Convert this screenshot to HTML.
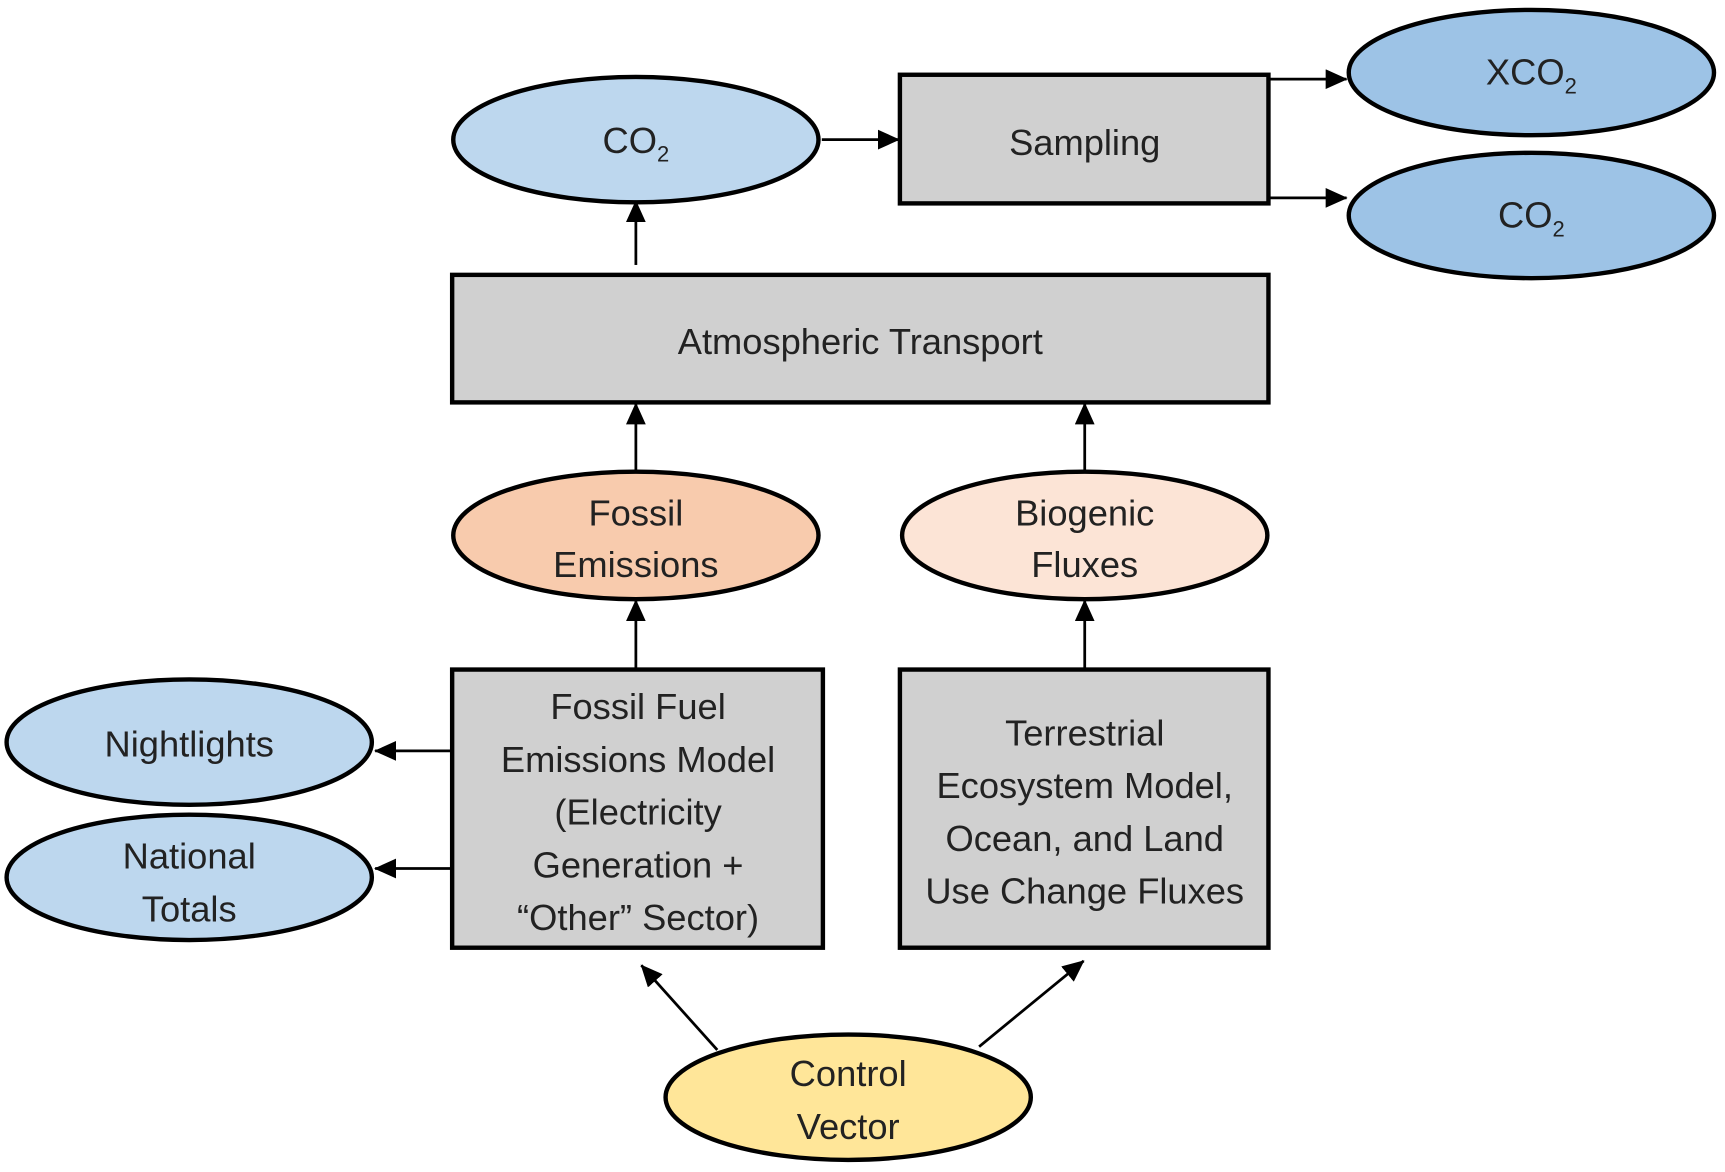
<!DOCTYPE html>
<html><head><style>html,body{margin:0;padding:0;background:#fff}svg{display:block}</style></head><body>
<svg width="1725" height="1172" viewBox="0 0 1568 1066" preserveAspectRatio="none" xmlns="http://www.w3.org/2000/svg" font-family="Liberation Sans, sans-serif" font-size="33" fill="#222">
<defs><marker id="a" markerWidth="10" markerHeight="10" refX="9" refY="5" orient="auto" markerUnits="userSpaceOnUse" viewBox="0 0 10 10"><path d="M0,0L10,5L0,10z" fill="#000"/></marker>
<marker id="b" markerWidth="20" markerHeight="18" refX="19" refY="9" orient="auto" markerUnits="userSpaceOnUse" viewBox="0 0 20 18"><path d="M0,0L20,9L0,18z" fill="#000"/></marker></defs>
<g stroke="#000" stroke-width="4">
<ellipse cx="578" cy="127" rx="166" ry="57" fill="#bdd7ee"/>
<rect x="818" y="68" width="335" height="117" fill="#d0d0d0"/>
<ellipse cx="1392" cy="66" rx="166" ry="57" fill="#9dc3e6"/>
<ellipse cx="1392" cy="196" rx="166" ry="57" fill="#9dc3e6"/>
<rect x="411" y="250" width="742" height="116" fill="#d0d0d0"/>
<ellipse cx="578" cy="487" rx="166" ry="58" fill="#f8cbad"/>
<ellipse cx="986" cy="487" rx="166" ry="58" fill="#fce4d6"/>
<rect x="411" y="609" width="337" height="253" fill="#d0d0d0"/>
<rect x="818" y="609" width="335" height="253" fill="#d0d0d0"/>
<ellipse cx="172" cy="675" rx="166" ry="57" fill="#bdd7ee"/>
<ellipse cx="172" cy="798" rx="166" ry="57" fill="#bdd7ee"/>
<ellipse cx="771" cy="998" rx="166" ry="57" fill="#ffe699"/>
</g>
<g stroke="#000" stroke-width="2.5" marker-end="url(#b)">
<line x1="747" y1="127" x2="817" y2="127"/>
<line x1="1153" y1="72" x2="1224" y2="72"/>
<line x1="1153" y1="180" x2="1224" y2="180"/>
<line x1="578" y1="241" x2="578" y2="183"/>
<line x1="578" y1="430" x2="578" y2="367"/>
<line x1="986" y1="430" x2="986" y2="367"/>
<line x1="578" y1="609" x2="578" y2="546"/>
<line x1="986" y1="609" x2="986" y2="546"/>
<line x1="411" y1="683" x2="341" y2="683"/>
<line x1="411" y1="790" x2="341" y2="790"/>
<line x1="652" y1="955" x2="583" y2="878"/>
<line x1="890" y1="952" x2="985" y2="874"/>
</g>
<g text-anchor="middle">
<text x="578" y="139">CO<tspan font-size="20" dy="8">2</tspan></text>
<text x="986" y="141">Sampling</text>
<text x="1392" y="77">XCO<tspan font-size="20" dy="8">2</tspan></text>
<text x="1392" y="207">CO<tspan font-size="20" dy="8">2</tspan></text>
<text x="782" y="322">Atmospheric Transport</text>
<text x="578" y="478">Fossil</text><text x="578" y="525">Emissions</text>
<text x="986" y="478">Biogenic</text><text x="986" y="525">Fluxes</text>
<text x="580" y="654">Fossil Fuel</text>
<text x="580" y="702">Emissions Model</text>
<text x="580" y="750">(Electricity</text>
<text x="580" y="798">Generation +</text>
<text x="580" y="846">“Other” Sector)</text>
<text x="986" y="678">Terrestrial</text>
<text x="986" y="726">Ecosystem Model,</text>
<text x="986" y="774">Ocean, and Land</text>
<text x="986" y="822">Use Change Fluxes</text>
<text x="172" y="688">Nightlights</text>
<text x="172" y="790">National</text><text x="172" y="838">Totals</text>
<text x="771" y="988">Control</text><text x="771" y="1036">Vector</text>
</g>
</svg>
</body></html>
